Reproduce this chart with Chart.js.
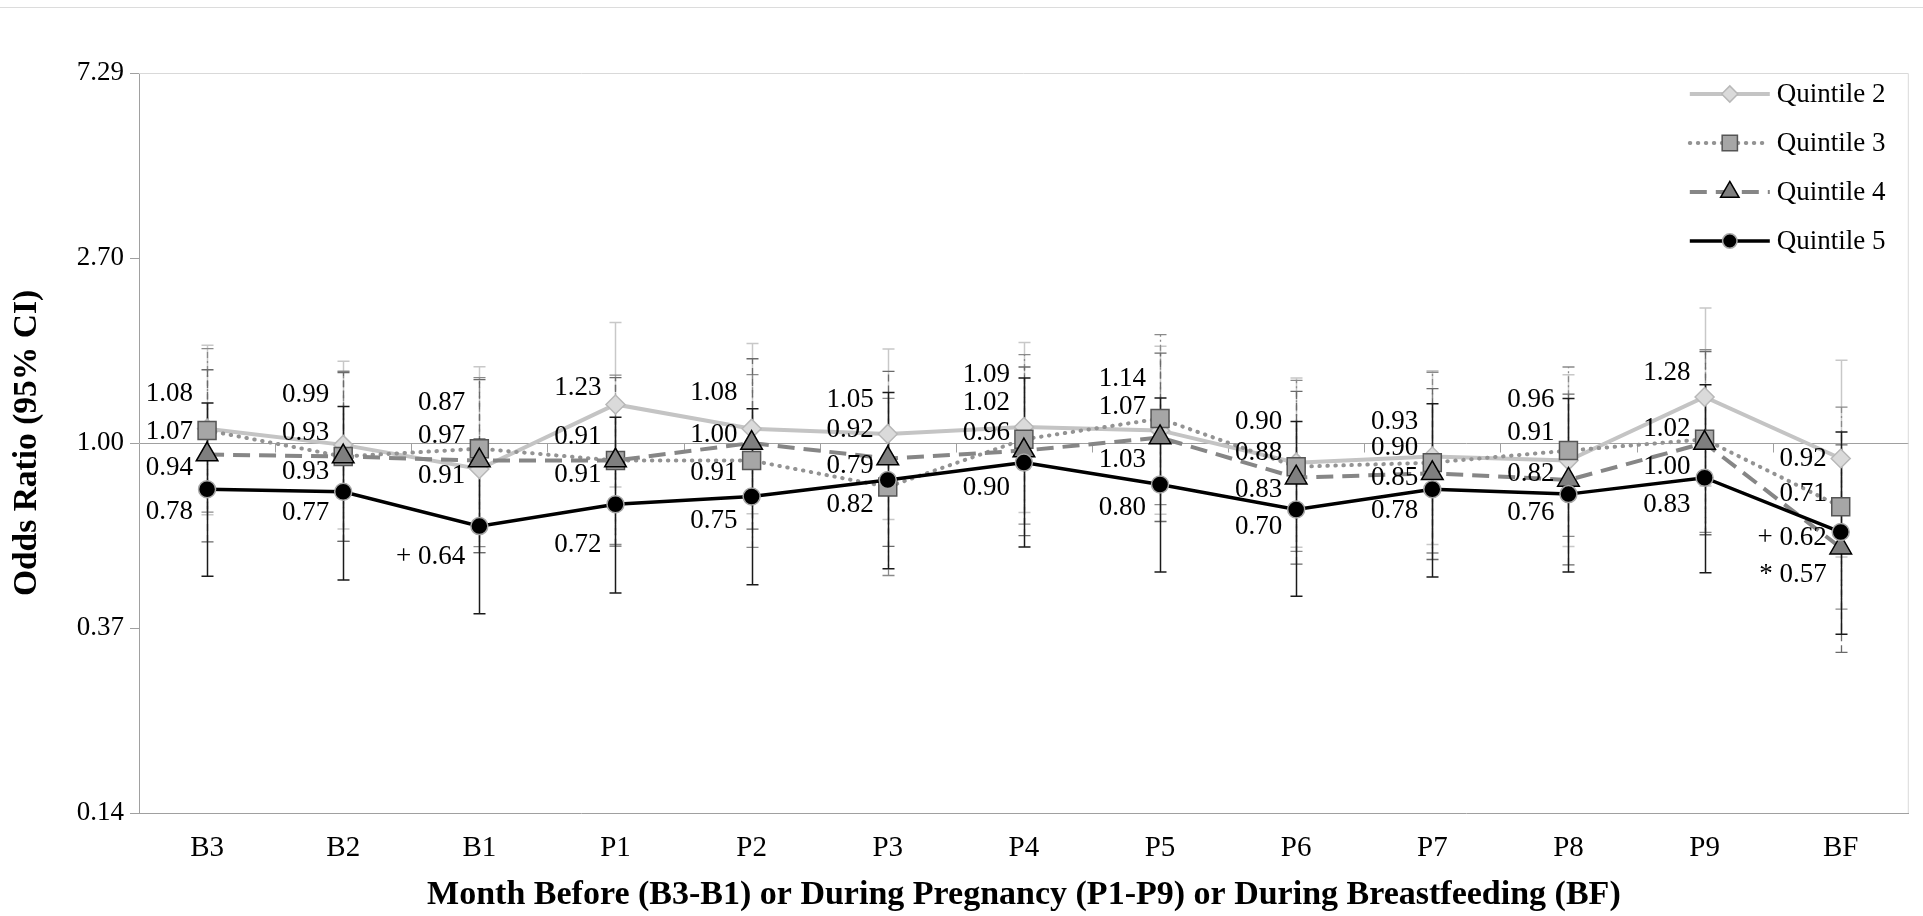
<!DOCTYPE html>
<html><head><meta charset="utf-8">
<script src="https://cdn.jsdelivr.net/npm/chart.js@4.4.1/dist/chart.umd.min.js"></script>
<style>
html,body{margin:0;padding:0;background:#fff;overflow:hidden;}
#wrap{position:relative;width:1923px;height:916px;}
#topline{position:absolute;left:0;top:7px;width:1923px;height:1px;background:#dcdcdc;}
canvas{position:absolute;left:0;top:0;}
</style></head><body>
<div id="wrap"><div id="topline"></div><canvas id="c" width="1923" height="916"></canvas></div>
<script>
// ---------- data ----------
const categories = ['B3','B2','B1','P1','P2','P3','P4','P5','P6','P7','P8','P9','BF'];
const seriesNames = ['Quintile 2','Quintile 3','Quintile 4','Quintile 5'];

const q2 = [1.08, 0.99, 0.87, 1.23, 1.08, 1.05, 1.09, 1.07, 0.90, 0.93, 0.91, 1.28, 0.92];
const q2Lo = [0.68, 0.63, 0.555, 0.79, 0.684, 0.663, 0.689, 0.682, 0.571, 0.58, 0.574, 0.794, 0.542];
const q2Hi = [1.69, 1.55, 1.506, 1.91, 1.705, 1.656, 1.716, 1.68, 1.418, 1.474, 1.443, 2.065, 1.559];

const q3 = [1.07, 0.93, 0.97, 0.91, 0.91, 0.79, 1.02, 1.14, 0.88, 0.90, 0.96, 1.02, 0.71];
const q3Lo = [0.69, 0.59, 0.573, 0.58, 0.571, 0.491, 0.647, 0.718, 0.559, 0.554, 0.606, 0.619, 0.41];
const q3Hi = [1.66, 1.47, 1.42, 1.44, 1.443, 1.271, 1.607, 1.789, 1.40, 1.462, 1.504, 1.65, 1.213];

const q4 = [0.94, 0.93, 0.91, 0.91, 1.00, 0.92, 0.96, 1.03, 0.83, 0.85, 0.82, 1.00, 0.57];
const q4Lo = [0.588, 0.59, 0.555, 0.575, 0.63, 0.574, 0.608, 0.656, 0.522, 0.535, 0.52, 0.611, 0.325];
const q4Hi = [1.482, 1.46, 1.405, 1.42, 1.572, 1.469, 1.504, 1.621, 1.319, 1.339, 1.30, 1.633, 0.99];

const q5 = [0.78, 0.77, 0.64, 0.72, 0.75, 0.82, 0.90, 0.80, 0.70, 0.78, 0.76, 0.83, 0.62];
const q5Lo = [0.489, 0.479, 0.40, 0.447, 0.467, 0.509, 0.572, 0.50, 0.439, 0.487, 0.50, 0.498, 0.358];
const q5Hi = [1.239, 1.217, 1.02, 1.148, 1.202, 1.312, 1.418, 1.273, 1.123, 1.235, 1.27, 1.367, 1.061];

// significance markers shown before the value labels
const q2Flags = ['','','','','','','','','','','','',''];
const q3Flags = ['','','','','','','','','','','','',''];
const q4Flags = ['','','','','','','','','','','','','* '];
const q5Flags = ['','','+ ','','','','','','','','','','+ '];

const yTickValues = [1/7.29, 1/2.7, 1, 2.7, 7.29];
const yTickLabels = ['0.14','0.37','1.00','2.70','7.29'];
const xTitle = 'Month Before (B3-B1) or During Pregnancy (P1-P9) or During Breastfeeding (BF)';
const yTitle = 'Odds Ratio (95% CI)';

// ---------- layout (label vertical nudges, px) ----------
const q2Shift = [-35,-50,-66,-17,-36,-34,-52,-23,-41,-35,-28,-24,0];
const q3Shift = [2,-24,-13,-24,12,-21,-36,-40,-14,-15,-51,-10,-13];
const q4Shift = [13,15,15,14,-8,-29,-18,22,12,5,-6,24,27];
const q5Shift = [23,21,31,41,24,25,25,23,17,22,19,27,6];

const FONT = '"Liberation Serif", "Times New Roman", serif';
Chart.defaults.font.family = FONT;
Chart.defaults.color = '#000';

const datasets = [
  {label: seriesNames[0], data: q2, lo: q2Lo, hi: q2Hi, flags: q2Flags, shift: q2Shift, order: 3,
   borderColor:'#c4c4c4', borderWidth:4, borderDash:[], borderCapStyle:'butt',
   pointStyle:'rectRot', pointRadius:9.5, pointBackgroundColor:'#dadada', pointBorderColor:'#b8b8b8', pointBorderWidth:1.5,
   err:{color:'#c8c8c8', width:1.5, dash:[]}},
  {label: seriesNames[1], data: q3, lo: q3Lo, hi: q3Hi, flags: q3Flags, shift: q3Shift, order: 2,
   borderColor:'#939393', borderWidth:4, borderDash:[0.5,7.5], borderCapStyle:'round',
   pointStyle:'rect', pointRadius:12.7, pointBackgroundColor:'#a6a6a6', pointBorderColor:'#555555', pointBorderWidth:1.5,
   err:{color:'#8a8a8a', width:1.3, dash:[6,3,2,3]}},
  {label: seriesNames[2], data: q4, lo: q4Lo, hi: q4Hi, flags: q4Flags, shift: q4Shift, order: 1,
   borderColor:'#868686', borderWidth:4, borderDash:[17,9], borderCapStyle:'butt',
   pointStyle:'triangle', pointRadius:12.5, pointBackgroundColor:'#7f7f7f', pointBorderColor:'#000', pointBorderWidth:1.5,
   err:{color:'#6a6a6a', width:1.3, dash:[7,4]}},
  {label: seriesNames[3], data: q5, lo: q5Lo, hi: q5Hi, flags: q5Flags, shift: q5Shift, order: 0,
   borderColor:'#000', borderWidth:3.5, borderDash:[], borderCapStyle:'butt',
   pointStyle:'circle', pointRadius:8.5, pointBackgroundColor:'#000', pointBorderColor:'#a8a8a8', pointBorderWidth:1.5,
   err:{color:'#1a1a1a', width:1.5, dash:[]}}
];
datasets.forEach(d => { d.tension = 0; d.fill = false; d.pointHoverRadius = d.pointRadius; });

const framePlugin = {
  id:'frame',
  beforeDatasetsDraw(chart){
    const {ctx, chartArea:a, scales:{x, y}} = chart;
    ctx.save();
    ctx.strokeStyle = '#d9d9d9'; ctx.lineWidth = 1;
    ctx.beginPath();
    ctx.moveTo(a.left, a.top + 0.5); ctx.lineTo(a.right - 0.5, a.top + 0.5); ctx.lineTo(a.right - 0.5, a.bottom);
    ctx.stroke();
    // category boundary ticks on the 1.00 reference line
    const y1 = Math.round(y.getPixelForValue(1)) + 0.5;
    ctx.strokeStyle = '#a0a0a0';
    ctx.beginPath();
    for (let i = 1; i < categories.length; i++) {
      const xb = Math.round(x.getPixelForValue(i - 0.5)) + 0.5;
      ctx.moveTo(xb, y1); ctx.lineTo(xb, y1 + 9);
    }
    ctx.stroke();
    // error bars
    const cap = 6;
    chart.data.datasets.forEach((ds, di) => {
      const meta = chart.getDatasetMeta(di);
      ctx.save();
      ctx.strokeStyle = ds.err.color; ctx.lineWidth = ds.err.width; ctx.setLineDash(ds.err.dash);
      meta.data.forEach((pt, i) => {
        const px = Math.round(pt.x) + 0.5;
        const yl = y.getPixelForValue(ds.lo[i]), yh = y.getPixelForValue(ds.hi[i]);
        ctx.beginPath();
        ctx.moveTo(px, yl); ctx.lineTo(px, yh);
        ctx.stroke();
        ctx.setLineDash([]);
        ctx.beginPath();
        ctx.moveTo(px - cap, yl); ctx.lineTo(px + cap, yl);
        ctx.moveTo(px - cap, yh); ctx.lineTo(px + cap, yh);
        ctx.stroke();
        ctx.setLineDash(ds.err.dash);
      });
      ctx.restore();
    });
    ctx.restore();
  },
  afterDatasetsDraw(chart){
    const {ctx, chartArea:a} = chart;
    // value labels
    ctx.save();
    ctx.font = '27px ' + FONT; ctx.fillStyle = '#000';
    ctx.textAlign = 'right'; ctx.textBaseline = 'middle';
    chart.data.datasets.forEach((ds, di) => {
      const meta = chart.getDatasetMeta(di);
      meta.data.forEach((pt, i) => {
        ctx.fillText(ds.flags[i] + ds.data[i].toFixed(2), pt.x - 14, pt.y + ds.shift[i]);
      });
    });
    ctx.restore();
    // legend
    const len = 80, x0 = a.right - 219, row0 = a.top + 21, rowH = 49;
    chart.data.datasets.forEach((ds, i) => {
      const yy = row0 + i * rowH;
      ctx.save();
      ctx.strokeStyle = ds.borderColor; ctx.lineWidth = ds.borderWidth;
      ctx.setLineDash(ds.borderDash); ctx.lineCap = ds.borderCapStyle;
      ctx.beginPath(); ctx.moveTo(x0, yy); ctx.lineTo(x0 + len, yy); ctx.stroke();
      ctx.restore();
      ctx.save();
      ctx.fillStyle = ds.pointBackgroundColor; ctx.strokeStyle = ds.pointBorderColor; ctx.lineWidth = ds.pointBorderWidth;
      Chart.helpers.drawPoint(ctx, {pointStyle: ds.pointStyle, radius: ds.pointRadius * 0.85, borderWidth: ds.pointBorderWidth, rotation: 0}, x0 + len / 2, yy);
      ctx.restore();
      ctx.save();
      ctx.font = '27px ' + FONT; ctx.fillStyle = '#000'; ctx.textAlign = 'left'; ctx.textBaseline = 'middle';
      ctx.fillText(ds.label, x0 + len + 7, yy + 1);
      ctx.restore();
    });
  }
};

new Chart(document.getElementById('c'), {
  type: 'line',
  data: { labels: categories, datasets },
  options: {
    responsive: false, animation: false, devicePixelRatio: 1,
    layout: { padding: { top: 73, right: 12, left: 0, bottom: 0 } },
    plugins: { legend: { display: false }, tooltip: { enabled: false } },
    scales: {
      x: {
        type: 'category', offset: true,
        grid: { display: false },
        border: { display: true, color: '#a0a0a0', width: 1 },
        ticks: { font: { size: 29 }, color: '#000', padding: 10, maxRotation: 0 },
        title: { display: true, text: xTitle, font: { size: 34, weight: 'bold' }, color: '#000', padding: { top: 0, bottom: 0 } },
        afterFit(s) { s.height = 103; }
      },
      y: {
        type: 'logarithmic', min: 1/7.29, max: 7.29,
        afterBuildTicks(s) { s.ticks = yTickValues.map(v => ({ value: v })); },
        grid: {
          drawOnChartArea: true, drawTicks: true, tickLength: 9,
          color: c => (c.tick && Math.abs(c.tick.value - 1) < 1e-9) ? '#a0a0a0' : 'rgba(0,0,0,0)',
          tickColor: '#a0a0a0'
        },
        border: { display: true, color: '#a0a0a0', width: 1 },
        ticks: { font: { size: 27 }, color: '#000', padding: 6, autoSkip: false,
                 callback: (v, i) => yTickLabels[i] },
        title: { display: true, text: yTitle, font: { size: 33.5, weight: 'bold' }, color: '#000', padding: { top: 7, bottom: 0 } },
        afterFit(s) { s.width = 139; }
      }
    }
  },
  plugins: [framePlugin]
});
</script>
</body></html>
